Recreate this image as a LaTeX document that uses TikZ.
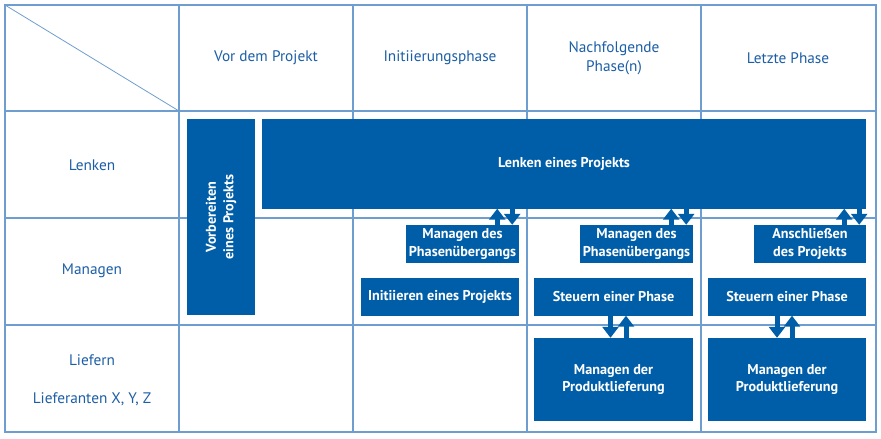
\documentclass[tikz,border=0pt]{standalone}
\usepackage{fontspec}
\setmainfont{PT Sans}
\usetikzlibrary{arrows.meta,positioning}
\definecolor{procblue}{RGB}{0,94,168}
\definecolor{gridblue}{RGB}{110,157,208}
\definecolor{textblue}{RGB}{28,94,166}

\begin{document}
\begin{tikzpicture}[x=1pt,y=-1pt,
		proc/.style={fill=procblue,text=white,font=\bfseries\fontsize{14.2}{17.5}\selectfont,align=center,inner sep=0pt},
		lbl/.style={text=textblue,font=\fontsize{15.3}{19}\selectfont,align=center},
		flow/.style={procblue,line width=5pt,-{Triangle[width=16pt,length=11pt]}}]
			\useasboundingbox (0,0) rectangle (881,439);
			% Raster
			\foreach \x in {179,353,527,701} {
				\draw[gridblue,line width=1.2pt] (\x,5) -- (\x,432);
			}
			\foreach \y in {111,218,325} {
				\draw[gridblue,line width=1.2pt] (5,\y) -- (876,\y);
			}
			\draw[gridblue,line width=1.2pt] (5,5) rectangle (876,432);
			\draw[gridblue,line width=0.8pt] (5,5) -- (179,111);
			% Kopfzeile und Zeilen
			\node[lbl] (vor) at (266,58) {Vor dem Projekt};
			\node[lbl] (init) at (440,58) {Initiierungsphase};
			\node[lbl] (nachf) at (614,58) {Nachfolgende\\Phase(n)};
			\node[lbl] (letzte) at (788,58) {Letzte Phase};
			\node[lbl] (rlenken) at (92,165) {Lenken};
			\node[lbl] (rmanagen) at (92,271) {Managen};
			\node[lbl] (rliefern) at (92,360) {Liefern};
			\node[lbl] (rlieferanten) at (92,399) {Lieferanten X, Y, Z};
			% Prozesse
			\node[proc,rotate=90,minimum width=196pt,minimum height=68pt] (vorb) at (221,217) {Vorbereiten\\eines Projekts};
			\node[proc,minimum width=604pt,minimum height=89.5pt] (lenken) at (564,163.75) {Lenken eines Projekts};
			\node[proc,minimum width=113pt,minimum height=38pt] (pue1) at (462.5,244) {Managen des\\Phasenübergangs};
			\node[proc,minimum width=113pt,minimum height=38pt] (pue2) at (636.5,244) {Managen des\\Phasenübergangs};
			\node[proc,minimum width=112pt,minimum height=38pt] (absch) at (810,244) {Anschließen\\des Projekts};
			\node[proc,minimum width=158pt,minimum height=38pt] (initi) at (440,296.5) {Initiieren eines Projekts};
			\node[proc,minimum width=159pt,minimum height=38pt] (steuern1) at (613.5,296.5) {Steuern einer Phase};
			\node[proc,minimum width=158pt,minimum height=38pt] (steuern2) at (787,296.5) {Steuern einer Phase};
			\node[proc,minimum width=159pt,minimum height=83pt] (prod1) at (613.5,379.5) {Managen der\\Produktlieferung};
			\node[proc,minimum width=158pt,minimum height=83pt] (prod2) at (787,379.5) {Managen der\\Produktlieferung};
			% Pfeile Lenken <-> Managen
			\foreach \n in {pue1,pue2,absch} {
				\path ([xshift=-22pt]\n.north east) coordinate (\n-up)
					([xshift=-7pt]\n.north east) coordinate (\n-dn);
				\draw[flow] (\n-up) -- (\n-up |- lenken.south);
				\draw[flow] (\n-dn |- lenken.south) -- (\n-dn);
			}
			% Pfeile Steuern <-> Liefern
			\path ([xshift=-3pt]steuern1.south) coordinate (s1-dn)
				([xshift=12.5pt]steuern1.south) coordinate (s1-up)
				([xshift=-10pt]steuern2.south) coordinate (s2-dn)
				([xshift=5pt]steuern2.south) coordinate (s2-up);
			\draw[flow] (s1-dn) -- (s1-dn |- prod1.north);
			\draw[flow] (s1-up |- prod1.north) -- (s1-up);
			\draw[flow] (s2-dn) -- (s2-dn |- prod2.north);
			\draw[flow] (s2-up |- prod2.north) -- (s2-up);
		\end{tikzpicture}
\end{document}
